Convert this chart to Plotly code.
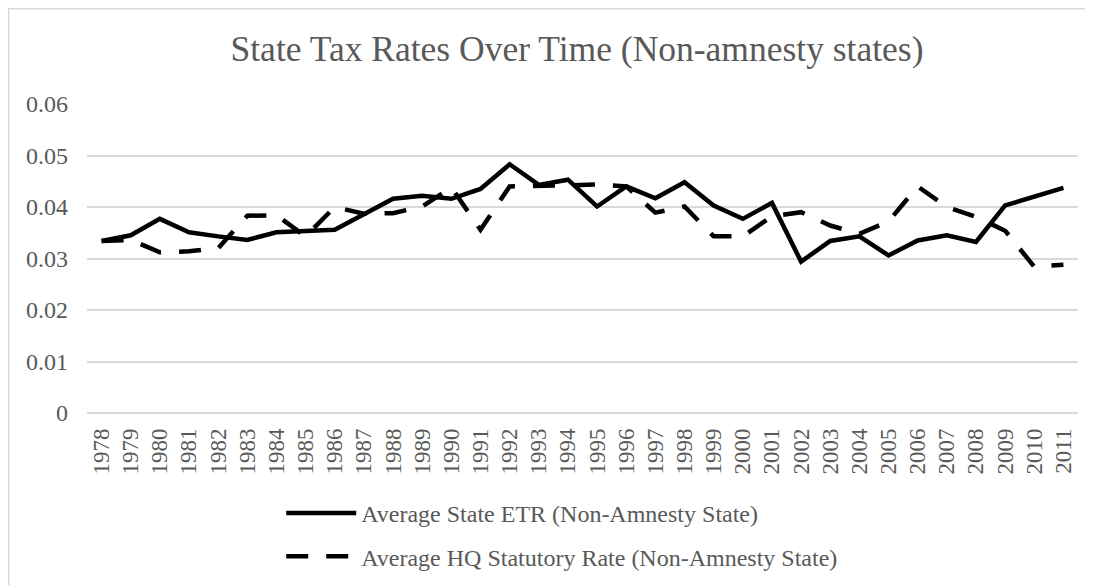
import plotly.graph_objects as go

years = [str(y) for y in range(1978, 2012)]
etr = [0.0334, 0.0345, 0.0377, 0.0351, 0.0343, 0.0336, 0.0351, 0.0354, 0.0356, 0.0386,
       0.0416, 0.0422, 0.0416, 0.0435, 0.0483, 0.0443, 0.0453, 0.0401, 0.0440, 0.0417,
       0.0448, 0.0403, 0.0377, 0.0408, 0.0294, 0.0334, 0.0343, 0.0306, 0.0335, 0.0345,
       0.0332, 0.0403, 0.0419, 0.0437]
hq = [0.0334, 0.0336, 0.0312, 0.0314, 0.0320, 0.0383, 0.0384, 0.0343, 0.0400, 0.0387,
      0.0388, 0.0401, 0.0438, 0.0356, 0.0440, 0.0440, 0.0442, 0.0444, 0.0440, 0.0389,
      0.0401, 0.0343, 0.0343, 0.0382, 0.0390, 0.0364, 0.0348, 0.0372, 0.0440, 0.0400,
      0.0381, 0.0354, 0.0284, 0.0288]
y_ticks = [0, 0.01, 0.02, 0.03, 0.04, 0.05, 0.06]
y_tick_text = ["0", "0.01", "0.02", "0.03", "0.04", "0.05", "0.06"]

FONT = "Liberation Serif, Times New Roman, serif"
GRAY = "#595959"
GRID = "#d9d9d9"

W, H = 1085, 577
L, T, PW, PH = 79, 96, 991, 309.3

fig = go.Figure()
fig.add_trace(go.Scatter(
    x=years, y=etr, mode="lines", name="Average State ETR (Non-Amnesty State)",
    line=dict(color="black", width=4.5), legendgroup="a"))
fig.add_trace(go.Scatter(
    x=years, y=hq, mode="lines", name="Average HQ Statutory Rate (Non-Amnesty State)",
    line=dict(color="black", width=4.5, dash="22px,18px"), legendgroup="b"))

fig.update_layout(
    width=W, height=H,
    margin=dict(l=L, r=W - L - PW, t=T, b=H - T - PH, pad=0),
    paper_bgcolor="white", plot_bgcolor="white",
    font=dict(family=FONT, color=GRAY, size=24),
    title=dict(text="State Tax Rates Over Time (Non-amnesty states)",
               font=dict(family=FONT, color=GRAY, size=35.5),
               x=569 / W, xref="container", xanchor="center",
               y=1 - 41 / H, yref="container", yanchor="middle"),
    xaxis=dict(type="category", range=[-0.5, len(years) - 0.5], autorange=False,
               showgrid=False, showline=False, zeroline=False, automargin=False,
               ticks="", tickangle=-90, tickfont=dict(size=23, color=GRAY, family=FONT),
               ticklabelstandoff=10),
    yaxis=dict(range=[0, 0.06], autorange=False, tickvals=y_ticks, ticktext=y_tick_text,
               showgrid=True, gridcolor=GRID, gridwidth=1.5, zeroline=True,
               zerolinecolor=GRID, zerolinewidth=1.5, showline=False, ticks="",
               automargin=False,
               tickfont=dict(size=24, color=GRAY, family=FONT), ticklabelstandoff=18),
    showlegend=True,
    legend=dict(orientation="v", x=0.196, xanchor="left", xref="paper",
                y=1 - 483 / H, yanchor="top", yref="container",
                font=dict(size=24, color=GRAY, family=FONT),
                itemwidth=70, tracegroupgap=9, bgcolor="rgba(0,0,0,0)"),
    shapes=[dict(type="rect", xref="paper", yref="paper",
                 x0=(0.75 - L) / PW, x1=1.2, y0=-0.8, y1=(T + PH - 0.75) / PH,
                 line=dict(color=GRID, width=1.5), fillcolor="rgba(0,0,0,0)", layer="below")],
)

fig.write_html("out.html")
